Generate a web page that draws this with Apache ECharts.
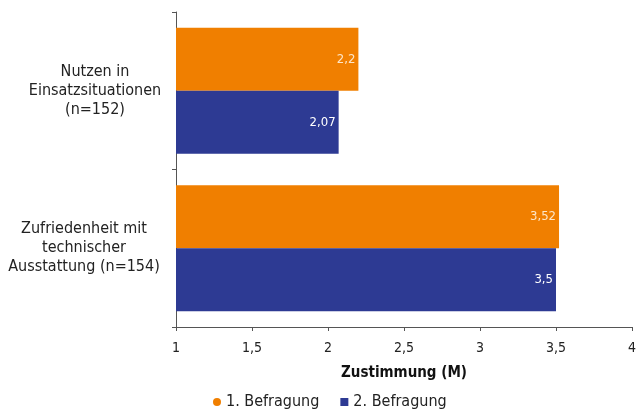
<!DOCTYPE html>
<html><head><meta charset="utf-8">
<script src="https://cdn.jsdelivr.net/npm/echarts@6/dist/echarts.min.js"></script>
<style>html,body{margin:0;padding:0;background:#fff}#c{width:641px;height:417px}</style>
</head><body><div id="c"></div>
<script>
const categories = ["Nutzen in\nEinsatzsituationen\n(n=152)", "Zufriedenheit mit\ntechnischer\nAusstattung (n=154)"];
const series1Name = "1. Befragung";
const series2Name = "2. Befragung";
const series1 = [2.2, 3.52];
const series2 = [2.07, 3.5];
const xTicks = [1, 1.5, 2, 2.5, 3, 3.5, 4];

const FONT = '"Liberation Sans Narrow", "DejaVu Sans Condensed", "Noto Sans", sans-serif';
const fmt = v => String(v).replace('.', ',');
const chart = echarts.init(document.getElementById('c'));
chart.setOption({
  animation: false,
  textStyle: { fontFamily: FONT },
  grid: { left: 176, right: 9, top: 12, bottom: 90 },
  legend: {
    bottom: 2, left: 208, itemWidth: 8, itemHeight: 8, itemGap: 21,
    textStyle: { fontFamily: FONT, fontSize: 16, color: '#222' },
    data: [{ name: series1Name, icon: 'circle' }, { name: series2Name, icon: 'rect' }]
  },
  xAxis: {
    type: 'value', min: xTicks[0], max: xTicks[xTicks.length - 1], interval: 0.5,
    name: 'Zustimmung (M)', nameLocation: 'middle', nameGap: 39,
    nameTextStyle: { fontFamily: FONT, fontSize: 15, fontWeight: 'bold', color: '#111' },
    axisLine: { show: true, lineStyle: { color: '#555' } },
    axisTick: { show: true, length: 4, inside: false, lineStyle: { color: '#555' } },
    axisLabel: { formatter: fmt, fontSize: 14, color: '#222', margin: 14, fontFamily: FONT },
    splitLine: { show: false }
  },
  yAxis: {
    type: 'category', data: categories, inverse: true,
    axisLine: { show: true, lineStyle: { color: '#555' } },
    axisTick: { show: true, length: 4, lineStyle: { color: '#555' } },
    axisLabel: {
      fontSize: 16, color: '#222', align: 'center', margin: 81, lineHeight: 19, fontFamily: FONT,
      formatter: (v, i) => i === 0 ? '{a|' + v + '}' : '{b|' + v + '}',
      rich: {
        a: { fontSize: 16, lineHeight: 19, align: 'center', color: '#222', fontFamily: FONT, padding: [0, 0, 0, 0] },
        b: { fontSize: 16, lineHeight: 19, align: 'center', color: '#222', fontFamily: FONT, padding: [0, 22, 0, 0] }
      }
    }
  },
  series: [
    { name: series1Name, type: 'bar', data: series1, barGap: '0%', barCategoryGap: '20%',
      itemStyle: { color: '#F07F00' },
      label: { show: true, position: 'insideRight', formatter: p => fmt(p.value), color: '#fde6c8', fontSize: 13, fontFamily: FONT, distance: 3 } },
    { name: series2Name, type: 'bar', data: series2,
      itemStyle: { color: '#2D3A93' },
      label: { show: true, position: 'insideRight', formatter: p => fmt(p.value), color: '#fff', fontSize: 13, fontFamily: FONT, distance: 3 } }
  ]
});
</script></body></html>
